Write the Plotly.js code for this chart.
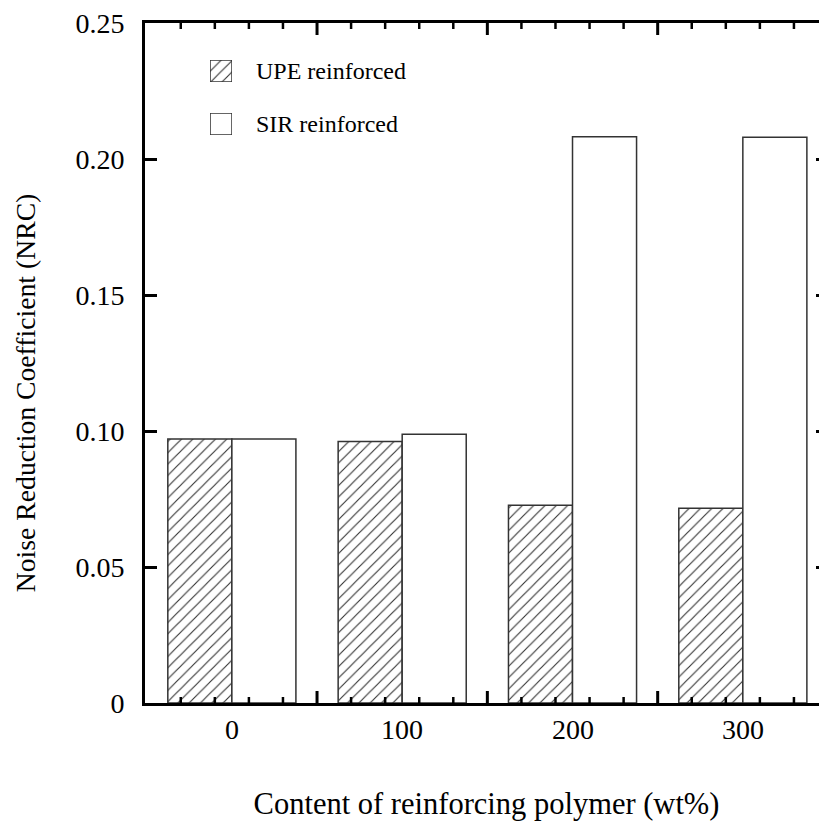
<!DOCTYPE html>
<html><head><meta charset="utf-8">
<script src="https://cdn.plot.ly/plotly-3.0.1.min.js"></script>
<style>html,body{margin:0;padding:0;overflow:hidden;background:#fff}#chart{width:835px;height:823px}</style>
</head><body><div id="chart"></div>
<script>
const categories = [0, 100, 200, 300];
const xTickText = ['0', '100', '200', '300'];
const seriesNames = ['UPE reinforced', 'SIR reinforced'];
const upeValues = [0.0971, 0.0961, 0.0727, 0.0716];
const sirValues = [0.0971, 0.0988, 0.2082, 0.2080];
const yTickVals = [0, 0.05, 0.10, 0.15, 0.20, 0.25];
const yTickText = ['0', '0.05', '0.10', '0.15', '0.20', '0.25'];
const xMajorTickVals = [50, 150, 250];
const xMinorTickVals = [-30, -10, 10, 30, 70, 90, 110, 130, 170, 190, 210, 230, 270, 290, 310, 330];
const xTitle = 'Content of reinforcing polymer (wt%)';
const yTitle = 'Noise Reduction Coefficient (NRC)';

const FONT = 'Liberation Serif, Tinos, Times New Roman, DejaVu Serif, serif';
const hatch = {shape: '/', size: 8, solidity: 0.14, fgcolor: '#333', bgcolor: 'white', fillmode: 'replace'};
const outline = {color: '#333', width: 1.5};
const Y_RANGE = [0, 0.25];

const traces = [
  {type: 'bar', name: seriesNames[0], x: categories, y: upeValues, xaxis: 'x', yaxis: 'y',
   marker: {color: 'white', line: outline, pattern: hatch}},
  {type: 'bar', name: seriesNames[1], x: categories, y: sirValues, xaxis: 'x', yaxis: 'y',
   marker: {color: 'white', line: outline}},
  // legend swatches
  {type: 'bar', x: [0], y: [1], width: [1], xaxis: 'x3', yaxis: 'y3', showlegend: false, hoverinfo: 'skip',
   marker: {color: 'white', line: outline, pattern: hatch}},
  {type: 'bar', x: [0], y: [1], width: [1], xaxis: 'x4', yaxis: 'y4', showlegend: false, hoverinfo: 'skip',
   marker: {color: 'white', line: outline}}
];

const swatchAxis = (dom, anchor) => ({domain: dom, anchor: anchor, visible: false, fixedrange: true});

const xLabelAnnotations = categories.map((c, i) => ({
  text: xTickText[i], xref: 'x', yref: 'paper', x: c, y: -0.0397, yanchor: 'middle', xanchor: 'center',
  showarrow: false, font: {family: FONT, size: 28, color: 'black'}
}));

// inward x ticks on bottom and top frame (major 12px, minor 6px), placed in axis units
const PLOT_H = 680;
function tickShapes(vals, lenPx, width) {
  const len = (lenPx / PLOT_H) * (Y_RANGE[1] - Y_RANGE[0]);
  const out = [];
  vals.forEach(v => {
    out.push({type: 'line', xref: 'x', yref: 'y', x0: v, x1: v, y0: Y_RANGE[0], y1: Y_RANGE[0] + len, layer: 'above',
              line: {color: 'black', width: width}});
    out.push({type: 'line', xref: 'x', yref: 'y', x0: v, x1: v, y0: Y_RANGE[1], y1: Y_RANGE[1] - len, layer: 'above',
              line: {color: 'black', width: width}});
  });
  return out;
}

const layout = {
  width: 835, height: 823,
  margin: {l: 145, r: 7, t: 23, b: 120},
  paper_bgcolor: 'white', plot_bgcolor: 'rgba(0,0,0,0)',
  font: {family: FONT, color: 'black'},
  barmode: 'group', bargap: 0.248, bargroupgap: 0,
  showlegend: false,
  xaxis: {
    domain: [0, 1], range: [-51, 350],
    ticks: '', showticklabels: false,
    showline: true, linewidth: 3, linecolor: 'black', mirror: true,
    showgrid: false, zeroline: false,
    title: {text: xTitle, font: {family: FONT, size: 30.5, color: 'black'}, standoff: 88}
  },
  yaxis: {
    domain: [0, 1], range: Y_RANGE, tickvals: yTickVals, ticktext: yTickText,
    ticks: 'inside', ticklen: 12, tickwidth: 3, tickcolor: 'black',
    showline: true, linewidth: 3, linecolor: 'black', mirror: 'ticks',
    showgrid: false, zeroline: false,
    tickfont: {family: FONT, size: 28, color: 'black'},
    ticklabelstandoff: 12
  },
  xaxis3: Object.assign(swatchAxis([0.0952, 0.1274], 'y3'), {range: [-0.5, 0.5]}),
  yaxis3: Object.assign(swatchAxis([0.9132, 0.9456], 'x3'), {range: [0, 1]}),
  xaxis4: Object.assign(swatchAxis([0.0952, 0.1274], 'y4'), {range: [-0.5, 0.5]}),
  yaxis4: Object.assign(swatchAxis([0.8353, 0.8676], 'x4'), {range: [0, 1]}),
  shapes: tickShapes(xMajorTickVals, 12, 3).concat(tickShapes(xMinorTickVals, 6, 2.5)),
  annotations: [
    {text: seriesNames[0], xref: 'paper', yref: 'paper', x: 0.1596, y: 0.9294, xanchor: 'left', yanchor: 'middle',
     showarrow: false, font: {family: FONT, size: 24, color: 'black'}},
    {text: seriesNames[1], xref: 'paper', yref: 'paper', x: 0.1596, y: 0.8515, xanchor: 'left', yanchor: 'middle',
     showarrow: false, font: {family: FONT, size: 24, color: 'black'}},
    {text: yTitle, xref: 'paper', yref: 'paper', x: -0.1757, y: 0.457, xanchor: 'center', yanchor: 'middle',
     textangle: -90, showarrow: false, font: {family: FONT, size: 27.7, color: 'black'}}
  ].concat(xLabelAnnotations)
};

Plotly.newPlot('chart', traces, layout, {displayModeBar: false, staticPlot: true});
</script></body></html>
